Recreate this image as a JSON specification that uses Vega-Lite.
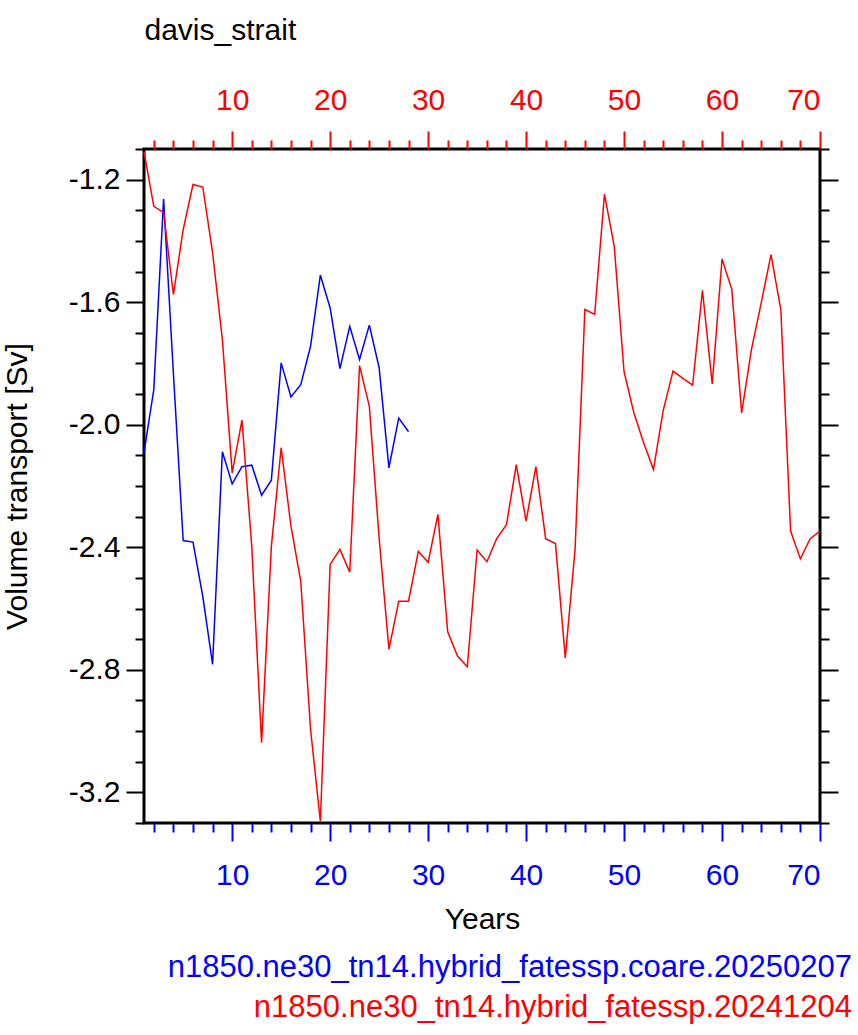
{
  "$schema": "https://vega.github.io/schema/vega-lite/v6.json",
  "autosize": "none",
  "width": 676,
  "height": 674,
  "padding": {"left": 144, "top": 149, "right": 38, "bottom": 212},
  "background": "white",
  "config": {
    "font": "Liberation Sans",
    "view": {"stroke": "black", "strokeWidth": 3},
    "axis": {"grid": false, "domain": false, "labelFont": "Liberation Sans", "titleFont": "Liberation Sans", "labelFontSize": 30, "titleFontSize": 30, "titleFontWeight": "normal", "tickWidth": 2}
  },
  "title": {
    "text": "n1850.ne30_tn14.hybrid_fatessp.coare.20250207",
    "subtitle": "n1850.ne30_tn14.hybrid_fatessp.20241204",
    "orient": "bottom",
    "anchor": "end",
    "frame": "group",
    "dx": 32,
    "offset": 19,
    "color": "blue",
    "subtitleColor": "red",
    "font": "Liberation Sans",
    "subtitleFont": "Liberation Sans",
    "fontSize": 31,
    "subtitleFontSize": 31,
    "fontWeight": "normal",
    "subtitlePadding": 9
  },
  "datasets": {
    "coare": [
      {"year": 1, "transport": -2.092},
      {"year": 2, "transport": -1.885},
      {"year": 3, "transport": -1.263},
      {"year": 4, "transport": -1.832},
      {"year": 5, "transport": -2.378},
      {"year": 6, "transport": -2.383},
      {"year": 7, "transport": -2.56},
      {"year": 8, "transport": -2.782},
      {"year": 9, "transport": -2.088},
      {"year": 10, "transport": -2.193},
      {"year": 11, "transport": -2.137},
      {"year": 12, "transport": -2.132},
      {"year": 13, "transport": -2.23},
      {"year": 14, "transport": -2.181},
      {"year": 15, "transport": -1.798},
      {"year": 16, "transport": -1.909},
      {"year": 17, "transport": -1.869},
      {"year": 18, "transport": -1.744},
      {"year": 19, "transport": -1.512},
      {"year": 20, "transport": -1.619},
      {"year": 21, "transport": -1.817},
      {"year": 22, "transport": -1.679},
      {"year": 23, "transport": -1.787},
      {"year": 24, "transport": -1.675},
      {"year": 25, "transport": -1.814},
      {"year": 26, "transport": -2.141},
      {"year": 27, "transport": -1.978},
      {"year": 28, "transport": -2.023}
    ],
    "base": [
      {"year": 1, "transport": -1.109},
      {"year": 2, "transport": -1.287},
      {"year": 3, "transport": -1.307},
      {"year": 4, "transport": -1.575},
      {"year": 5, "transport": -1.363},
      {"year": 6, "transport": -1.216},
      {"year": 7, "transport": -1.224},
      {"year": 8, "transport": -1.438},
      {"year": 9, "transport": -1.722},
      {"year": 10, "transport": -2.157},
      {"year": 11, "transport": -1.985},
      {"year": 12, "transport": -2.397},
      {"year": 13, "transport": -3.038},
      {"year": 14, "transport": -2.397},
      {"year": 15, "transport": -2.075},
      {"year": 16, "transport": -2.331},
      {"year": 17, "transport": -2.511},
      {"year": 18, "transport": -2.994},
      {"year": 19, "transport": -3.295},
      {"year": 20, "transport": -2.456},
      {"year": 21, "transport": -2.407},
      {"year": 22, "transport": -2.481},
      {"year": 23, "transport": -1.807},
      {"year": 24, "transport": -1.94},
      {"year": 25, "transport": -2.37},
      {"year": 26, "transport": -2.733},
      {"year": 27, "transport": -2.576},
      {"year": 28, "transport": -2.576},
      {"year": 29, "transport": -2.413},
      {"year": 30, "transport": -2.449},
      {"year": 31, "transport": -2.293},
      {"year": 32, "transport": -2.676},
      {"year": 33, "transport": -2.755},
      {"year": 34, "transport": -2.79},
      {"year": 35, "transport": -2.409},
      {"year": 36, "transport": -2.447},
      {"year": 37, "transport": -2.372},
      {"year": 38, "transport": -2.326},
      {"year": 39, "transport": -2.13},
      {"year": 40, "transport": -2.315},
      {"year": 41, "transport": -2.137},
      {"year": 42, "transport": -2.372},
      {"year": 43, "transport": -2.388},
      {"year": 44, "transport": -2.761},
      {"year": 45, "transport": -2.407},
      {"year": 46, "transport": -1.624},
      {"year": 47, "transport": -1.64},
      {"year": 48, "transport": -1.247},
      {"year": 49, "transport": -1.418},
      {"year": 50, "transport": -1.827},
      {"year": 51, "transport": -1.961},
      {"year": 52, "transport": -2.059},
      {"year": 53, "transport": -2.146},
      {"year": 54, "transport": -1.953},
      {"year": 55, "transport": -1.825},
      {"year": 56, "transport": -1.849},
      {"year": 57, "transport": -1.871},
      {"year": 58, "transport": -1.561},
      {"year": 59, "transport": -1.867},
      {"year": 60, "transport": -1.459},
      {"year": 61, "transport": -1.559},
      {"year": 62, "transport": -1.961},
      {"year": 63, "transport": -1.755},
      {"year": 64, "transport": -1.602},
      {"year": 65, "transport": -1.445},
      {"year": 66, "transport": -1.624},
      {"year": 67, "transport": -2.347},
      {"year": 68, "transport": -2.438},
      {"year": 69, "transport": -2.372},
      {"year": 70, "transport": -2.347}
    ]
  },
  "resolve": {"axis": {"x": "independent", "y": "independent"}},
  "layer": [
    {
      "data": {"name": "coare"},
      "mark": {"type": "line", "color": "blue", "strokeWidth": 1.5},
      "encoding": {
        "x": {"field": "year", "type": "quantitative", "scale": {"domain": [1, 70], "nice": false, "zero": false},
          "axis": {"orient": "bottom", "values": [10, 20, 30, 40, 50, 60, 70], "tickSize": 18, "tickColor": "blue", "labelColor": "blue", "labelPadding": 19, "title": "Years", "titleColor": "black", "titlePadding": 14}},
        "y": {"field": "transport", "type": "quantitative", "scale": {"domain": [-3.3, -1.1], "nice": false, "zero": false},
          "axis": {"orient": "left", "values": [-3.2, -2.8, -2.4, -2.0, -1.6, -1.2], "labelExpr": "replace(format(datum.value, '.1f'), '\u2212', '-')", "tickSize": 18, "tickColor": "black", "labelColor": "black", "labelPadding": 6, "title": "Volume transport [Sv]", "titleColor": "black", "titlePadding": 36}}
      }
    },
    {
      "data": {"name": "base"},
      "mark": {"type": "line", "color": "red", "strokeWidth": 1.5},
      "encoding": {
        "x": {"field": "year", "type": "quantitative",
          "axis": {"orient": "top", "values": [10, 20, 30, 40, 50, 60, 70], "tickSize": 18, "tickColor": "red", "labelColor": "red", "labelPadding": 16, "title": "davis_strait", "titleColor": "black", "titleAnchor": "start", "titleAlign": "left", "titlePadding": 40}},
        "y": {"field": "transport", "type": "quantitative",
          "axis": {"orient": "right", "values": [-3.2, -2.8, -2.4, -2.0, -1.6, -1.2], "tickSize": 18, "tickColor": "black", "labels": false, "title": null}}
      }
    },
    {
      "data": {"name": "coare"},
      "mark": {"type": "line", "strokeOpacity": 0},
      "encoding": {
        "x": {"field": "year", "type": "quantitative",
          "axis": {"orient": "bottom", "values": [2, 4, 6, 8, 12, 14, 16, 18, 22, 24, 26, 28, 32, 34, 36, 38, 42, 44, 46, 48, 52, 54, 56, 58, 62, 64, 66, 68], "tickSize": 9, "tickColor": "blue", "labels": false, "title": null}},
        "y": {"field": "transport", "type": "quantitative",
          "axis": {"orient": "left", "values": [-3.3, -3.1, -3.0, -2.9, -2.7, -2.6, -2.5, -2.3, -2.2, -2.1, -1.9, -1.8, -1.7, -1.5, -1.4, -1.3, -1.1], "tickSize": 9, "tickColor": "black", "labels": false, "title": null}}
      }
    },
    {
      "data": {"name": "base"},
      "mark": {"type": "line", "strokeOpacity": 0},
      "encoding": {
        "x": {"field": "year", "type": "quantitative",
          "axis": {"orient": "top", "values": [2, 4, 6, 8, 12, 14, 16, 18, 22, 24, 26, 28, 32, 34, 36, 38, 42, 44, 46, 48, 52, 54, 56, 58, 62, 64, 66, 68], "tickSize": 9, "tickColor": "red", "labels": false, "title": null}},
        "y": {"field": "transport", "type": "quantitative",
          "axis": {"orient": "right", "values": [-3.3, -3.1, -3.0, -2.9, -2.7, -2.6, -2.5, -2.3, -2.2, -2.1, -1.9, -1.8, -1.7, -1.5, -1.4, -1.3, -1.1], "tickSize": 9, "tickColor": "black", "labels": false, "title": null}}
      }
    }
  ]
}
